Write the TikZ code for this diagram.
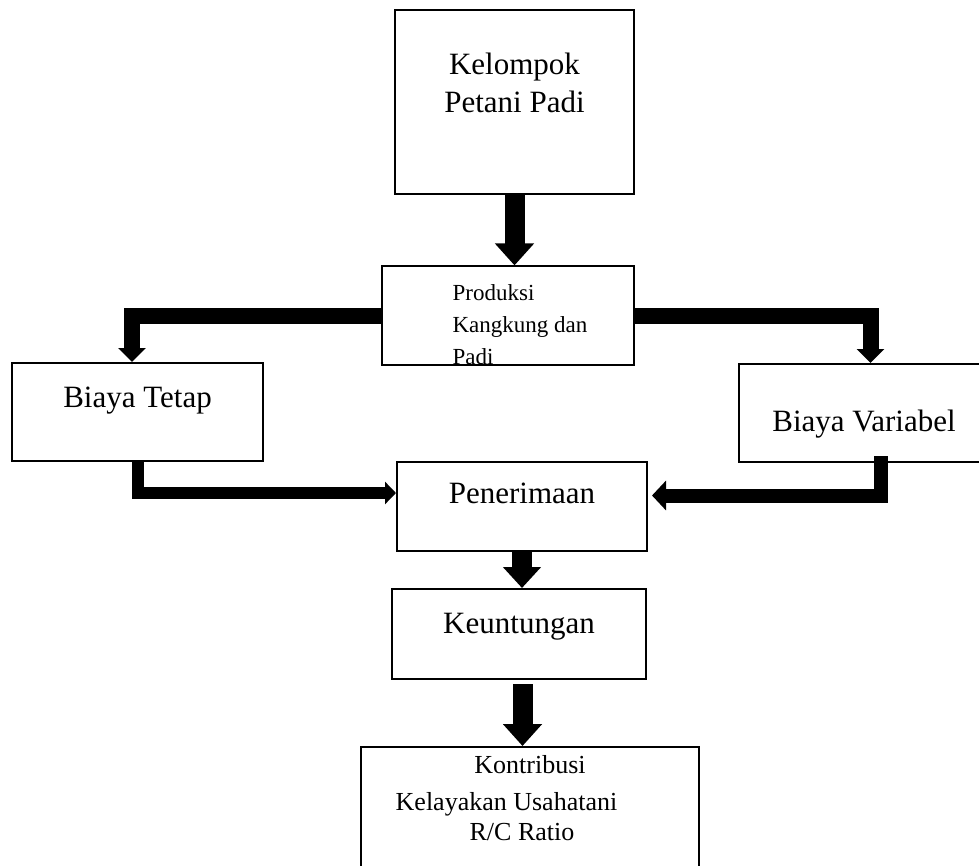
\documentclass[tikz,border=0pt]{standalone}
\usepackage{fontspec}
\setmainfont{Liberation Serif}
\usetikzlibrary{arrows.meta,positioning,calc}

\begin{document}
\begin{tikzpicture}[x=0.5pt,y=-0.5pt,
  kotak/.style={draw,line width=1pt,rectangle,inner sep=0pt,align=center,font=\fontsize{15.5}{19}\selectfont},
  panah/.style={line join=miter}]
\clip (0,0) rectangle (979,866);

\node[kotak,minimum width=119.5pt,minimum height=92pt] (kelompok) at (514.5,102) {Kelompok\\Petani Padi\\~};
\node[kotak,minimum width=126pt,minimum height=48.5pt,align=left,font=\fontsize{11.5}{16}\selectfont] (produksi) at (508,315.5)
  {\rule{0pt}{17pt}\hspace*{12pt}Produksi\\\hspace*{12pt}Kangkung dan\\\hspace*{12pt}Padi};
\node[kotak,minimum width=125.5pt,minimum height=49pt] (tetap) at (137.5,412) {Biaya Tetap\\[-4pt]~};
\node[kotak,minimum width=125pt,minimum height=49pt] (variabel) at (864,413) {\rule{0pt}{21.5pt}Biaya Variabel};
\node[kotak,minimum width=125pt,minimum height=44.5pt] (penerimaan) at (522,506.5) {Penerimaan\\[-6pt]~};
\node[kotak,minimum width=127pt,minimum height=45pt] (keuntungan) at (519,634) {Keuntungan\\[-8pt]~};
\node[kotak,anchor=north,minimum width=169pt,minimum height=72pt,font=\fontsize{13}{17}\selectfont] (kontribusi) at (530,746)
  {Kontribusi\\[1.5pt]Kelayakan Usahatani\kern23.5pt\\[-2pt]R/C Ratio\kern8pt\\[4.5pt]~};

% panah
\draw[panah,line width=10pt,-{Triangle[width=19pt,length=11pt]}] (kelompok.south) -- (kelompok.south |- produksi.north);
\draw[panah,line width=8pt,-{Triangle[width=13.5pt,length=7pt]}] (produksi.west) -| ([xshift=-2.75pt]tetap.north);
\draw[panah,line width=8pt,-{Triangle[width=13.5pt,length=7pt]}] (produksi.east) -| ([xshift=3.25pt]variabel.north);
\draw[panah,line width=6pt,-{Triangle[width=11pt,length=5.5pt]}] (tetap.south) |- ([yshift=6.75pt]penerimaan.west);
\draw[panah,line width=7pt,shorten <=-3.5pt,shorten >=2pt,-{Triangle[width=14.5pt,length=7pt]}] ([xshift=8.25pt]variabel.south) |- ([yshift=5.5pt]penerimaan.east);
\draw[panah,line width=10pt,-{Triangle[width=18.5pt,length=10.5pt]}] (penerimaan.south) -- (penerimaan.south |- keuntungan.north);
\draw[panah,line width=10pt,shorten <=2pt,-{Triangle[width=19pt,length=11pt]}] ([xshift=1.75pt]keuntungan.south) -- ([xshift=1.75pt]keuntungan.south |- kontribusi.north);
\end{tikzpicture}
\end{document}
